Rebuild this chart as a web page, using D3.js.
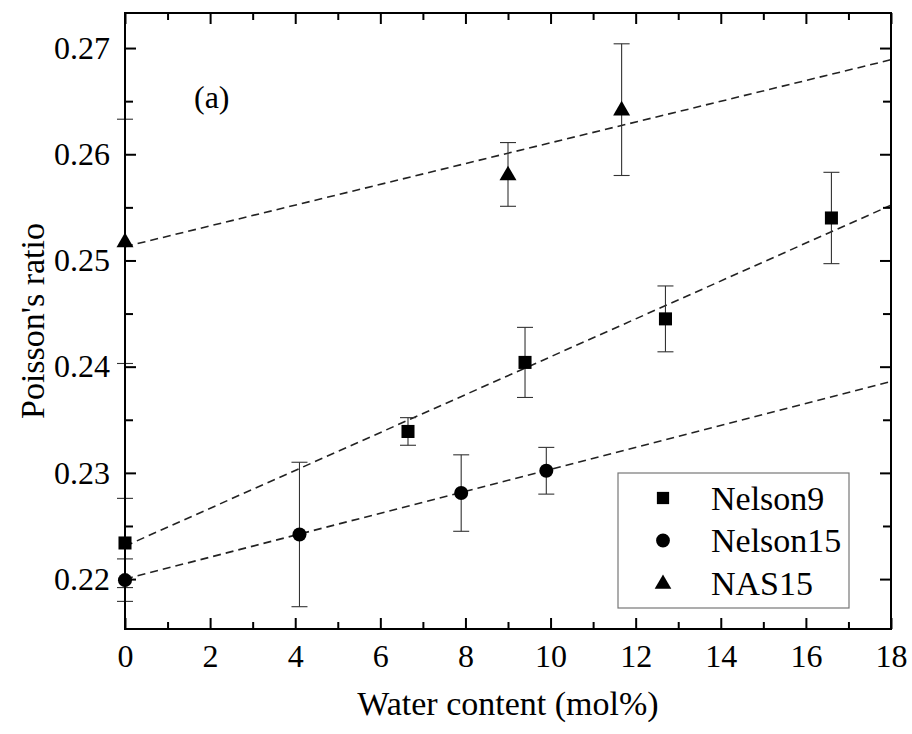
<!DOCTYPE html>
<html>
<head>
<meta charset="utf-8">
<script src="https://cdn.jsdelivr.net/npm/d3@7"></script>
<style>
  html, body { margin: 0; padding: 0; background: #fff; }
  svg text { font-family: "Liberation Serif", "Times New Roman", Times, serif; }
</style>
</head>
<body>
<svg id="chart" width="912" height="734"></svg>
<script>
// ---- data ----
const seriesNames = ["Nelson9", "Nelson15", "NAS15"];
const nelson9X = [0, 6.65, 9.4, 12.7, 16.6];
const nelson9Y = [0.2234, 0.2339, 0.2404, 0.2445, 0.2540];
const nelson9Err = [0.0042, 0.0013, 0.0033, 0.0031, 0.0043];
const nelson15X = [0, 4.1, 7.9, 9.9];
const nelson15Y = [0.2199, 0.2242, 0.2281, 0.2302];
const nelson15Err = [0.0020, 0.0068, 0.0036, 0.0022];
const nas15X = [0, 9.0, 11.67];
const nas15Y = [0.2518, 0.2581, 0.2642];
const nas15Err = [0.0115, 0.0030, 0.0062];
// linear fits: values at x = 0 and x = 18
const fitX = [0, 18];
const nelson9Fit = [0.2231, 0.2552];
const nelson15Fit = [0.2200, 0.2386];
const nas15Fit = [0.2513, 0.2689];
const xTicks = [0, 2, 4, 6, 8, 10, 12, 14, 16, 18];
const xMinor = [1, 3, 5, 7, 9, 11, 13, 15, 17];
const yTicks = [0.22, 0.23, 0.24, 0.25, 0.26, 0.27];
const yMinor = [0.225, 0.235, 0.245, 0.255, 0.265];

const FONT = '"Liberation Serif", "Times New Roman", Times, serif';
const svg = d3.select("#chart");
const L = 125, R = 891, T = 13, B = 629;
const x = d3.scaleLinear().domain([0, 18]).range([L, R]);
const y = d3.scaleLinear().domain([0.2153, 0.2733]).range([B, T]);

const font = 32;

// fit lines
const fits = [nelson9Fit, nelson15Fit, nas15Fit];
const line = d3.line().x(d => x(d[0])).y(d => y(d[1]));
fits.forEach(f => {
  svg.append("path")
    .attr("d", line(fitX.map((v, i) => [v, f[i]])))
    .attr("fill", "none").attr("stroke", "#222").attr("stroke-width", 1.6)
    .attr("stroke-dasharray", "8,5");
});

// series
const series = [
  {xs: nelson9X, ys: nelson9Y, es: nelson9Err, sym: d3.symbolSquare, size: 170},
  {xs: nelson15X, ys: nelson15Y, es: nelson15Err, sym: d3.symbolCircle, size: 155},
  {xs: nas15X, ys: nas15Y, es: nas15Err, sym: d3.symbolTriangle, size: 125}
];
series.forEach(s => {
  const pts = s.xs.map((v, i) => ({x: v, y: s.ys[i], e: s.es[i]}));
  const g = svg.append("g");
  pts.forEach(p => {
    const cx = x(p.x);
    g.append("line").attr("x1", cx).attr("x2", cx)
      .attr("y1", y(p.y + p.e)).attr("y2", y(p.y - p.e))
      .attr("stroke", "#333").attr("stroke-width", 1.1);
    [p.y + p.e, p.y - p.e].forEach(v => {
      g.append("line").attr("x1", cx - 8).attr("x2", cx + 8)
        .attr("y1", y(v)).attr("y2", y(v))
        .attr("stroke", "#333").attr("stroke-width", 1.1);
    });
  });
  g.selectAll("path.m").data(pts).enter().append("path")
    .attr("class", "m")
    .attr("d", d3.symbol().type(s.sym).size(s.size))
    .attr("transform", d => `translate(${x(d.x)},${y(d.y) + (s.sym === d3.symbolTriangle ? 1 : 0)})`)
    .attr("fill", "#000");
});

// axes (ticks inward, mirrored)
function styleAxis(g) {
  g.select(".domain").remove();
  g.selectAll("line").attr("stroke", "#000").attr("stroke-width", 2);
  g.selectAll("text").attr("font-size", font).attr("fill", "#000")
    .style("font-family", FONT);
}
const gxB = svg.append("g").attr("transform", `translate(0,${B})`)
  .call(d3.axisBottom(x).tickValues(xTicks).tickFormat(d3.format("d")).tickSizeInner(-11).tickSizeOuter(0).tickPadding(22));
styleAxis(gxB);
gxB.selectAll("text").attr("dy", "0.71em").attr("y", 15);
svg.append("g").attr("transform", `translate(0,${B})`)
  .call(d3.axisBottom(x).tickValues(xMinor).tickFormat("").tickSizeInner(-7).tickSizeOuter(0)).call(styleAxis);
svg.append("g").attr("transform", `translate(0,${T})`)
  .call(d3.axisTop(x).tickValues(xTicks).tickFormat("").tickSizeInner(-11).tickSizeOuter(0)).call(styleAxis);
svg.append("g").attr("transform", `translate(0,${T})`)
  .call(d3.axisTop(x).tickValues(xMinor).tickFormat("").tickSizeInner(-7).tickSizeOuter(0)).call(styleAxis);

const gyL = svg.append("g").attr("transform", `translate(${L},0)`)
  .call(d3.axisLeft(y).tickValues(yTicks).tickFormat(d3.format(".2f")).tickSizeInner(-11).tickSizeOuter(0).tickPadding(15));
styleAxis(gyL);
gyL.selectAll("text").attr("x", -15);
svg.append("g").attr("transform", `translate(${L},0)`)
  .call(d3.axisLeft(y).tickValues(yMinor).tickFormat("").tickSizeInner(-8).tickSizeOuter(0)).call(styleAxis);
svg.append("g").attr("transform", `translate(${R},0)`)
  .call(d3.axisRight(y).tickValues(yTicks).tickFormat("").tickSizeInner(-11).tickSizeOuter(0)).call(styleAxis);
svg.append("g").attr("transform", `translate(${R},0)`)
  .call(d3.axisRight(y).tickValues(yMinor).tickFormat("").tickSizeInner(-8).tickSizeOuter(0)).call(styleAxis);

// frame
svg.append("rect").attr("x", L).attr("y", T).attr("width", R - L).attr("height", B - T)
  .attr("fill", "none").attr("stroke", "#000").attr("stroke-width", 2);

// titles
svg.append("text").attr("x", (L + R) / 2).attr("y", 715).attr("text-anchor", "middle")
  .style("font-family", FONT).attr("font-size", 34).text("Water content (mol%)");
svg.append("text").attr("transform", `translate(44,${(T + B) / 2}) rotate(-90)`)
  .style("font-family", FONT).attr("text-anchor", "middle").attr("font-size", 34).text("Poisson's ratio");
svg.append("text").attr("x", 194).attr("y", 108).style("font-family", FONT).attr("font-size", 32).text("(a)");

// legend
const lg = svg.append("g");
lg.append("rect").attr("x", 618).attr("y", 473).attr("width", 231).attr("height", 135)
  .attr("fill", "#fff").attr("stroke", "#777").attr("stroke-width", 1.2);
const legSyms = [d3.symbolSquare, d3.symbolCircle, d3.symbolTriangle];
const legSizes = [150, 150, 120];
seriesNames.forEach((n, i) => {
  const yy = 498 + i * 42.5;
  lg.append("path").attr("d", d3.symbol().type(legSyms[i]).size(legSizes[i]))
    .attr("transform", `translate(663,${yy + (i === 2 ? 1 : 0)})`).attr("fill", "#000");
  lg.append("text").attr("x", 711).attr("y", yy).attr("dy", "0.35em")
    .style("font-family", FONT).attr("font-size", 34).text(n);
});
</script>
</body>
</html>
